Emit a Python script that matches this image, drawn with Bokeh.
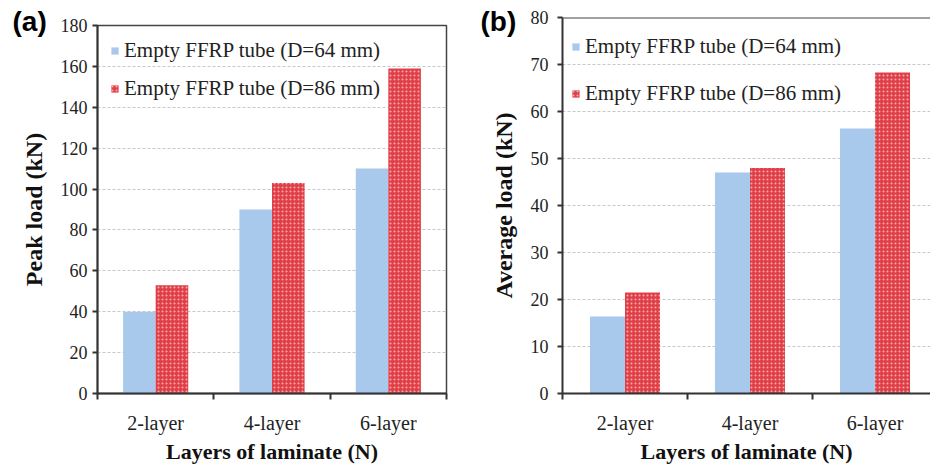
import numpy as np
from bokeh.plotting import figure
from bokeh.layouts import row
from bokeh.models import (ColumnDataSource, FixedTicker, Legend, LegendItem, Label,
                          Span, Range1d)
from bokeh.transform import dodge
from bokeh.embed import file_html
from bokeh.resources import INLINE

# ---------------- data ----------------
categories = ["2-layer", "4-layer", "6-layer"]
series_names = ["Empty FFRP tube (D=64 mm)", "Empty FFRP tube (D=86 mm)"]
peak_d64 = [40, 90, 110]
peak_d86 = [53, 103, 159]
avg_d64 = [16.4, 47, 56.4]
avg_d86 = [21.5, 48, 68.3]
peak_ticks = [0, 20, 40, 60, 80, 100, 120, 140, 160, 180]
avg_ticks = [0, 10, 20, 30, 40, 50, 60, 70, 80]

BLUE = "#a8c8ec"
RED = "#e03f48"
DOT = "#f8b8b8"
SERIF = "Liberation Serif"
AXC = "#333333"
TOP = 40  # fixed top border; the figure is shifted up with a negative margin


def make_panel(tag, vals64, vals86, ymax, yticks, ylabel, x_end,
               borders, legend_loc, legend_spacing, tag_xy, tick_standoff,
               outline=True):
    left, right, top, bottom = borders
    shift = TOP - top
    p = figure(width=465, height=473 + shift, output_backend="svg",
               toolbar_location=None,
               x_range=Range1d(0, x_end), y_range=Range1d(0, ymax),
               min_border_left=left, min_border_right=right,
               min_border_top=TOP, min_border_bottom=bottom,
               margin=(-shift, 0, 0, 0))
    p.background_fill_color = "white"
    p.border_fill_color = "white"
    if outline:
        p.outline_line_color = "#444444"
        p.outline_line_width = 1.5
    else:
        p.outline_line_color = None
        p.add_layout(Span(location=ymax, dimension="width", line_color="#444444",
                          line_width=2))

    centers = np.arange(len(categories)) + 0.5
    w = 0.28
    src = ColumnDataSource(dict(x=centers, cat=categories, a=vals64, b=vals86))
    r1 = p.vbar(x=dodge("x", -w / 2), top="a", width=w, source=src,
                fill_color=BLUE, line_color=None)
    r2 = p.vbar(x=dodge("x", w / 2), top="b", width=w, source=src, fill_color=RED,
                line_color=None, hatch_pattern="dot", hatch_color=DOT,
                hatch_scale=4, hatch_weight=1.6, hatch_alpha=0.9)

    # grid
    p.xgrid.visible = False
    p.ygrid.ticker = FixedTicker(ticks=yticks)
    p.ygrid.grid_line_color = "#c4c8cc"
    p.ygrid.grid_line_dash = "3 2"
    p.ygrid.grid_line_width = 1

    # y axis
    ya = p.yaxis[0]
    ya.ticker = FixedTicker(ticks=yticks)
    ya.axis_line_color = AXC
    ya.axis_line_width = 2
    ya.major_tick_line_color = AXC
    ya.major_tick_line_width = 2
    ya.major_tick_out = 5
    ya.major_tick_in = 0
    ya.minor_tick_line_color = None
    ya.major_label_standoff = tick_standoff
    ya.major_label_text_font = SERIF
    ya.major_label_text_font_size = "18px"
    ya.major_label_text_color = "#222222"
    ya.axis_label = ylabel
    ya.axis_label_text_font = SERIF
    ya.axis_label_text_font_style = "bold"
    ya.axis_label_text_font_size = "24px"
    ya.axis_label_text_color = "#111111"
    ya.axis_label_standoff = 11

    # x axis: labels at category centres, ticks at boundaries
    xa = p.xaxis[0]
    xa.ticker = FixedTicker(ticks=list(centers),
                            minor_ticks=list(range(len(categories) + 1)))
    xa.major_label_overrides = {float(c): n for c, n in zip(centers, categories)}
    xa.axis_line_color = AXC
    xa.axis_line_width = 2
    xa.major_tick_line_color = None
    xa.major_tick_out = 0
    xa.major_tick_in = 0
    xa.minor_tick_line_color = AXC
    xa.minor_tick_line_width = 2
    xa.minor_tick_out = 6
    xa.minor_tick_in = 0
    xa.major_label_standoff = 12
    xa.major_label_text_font = SERIF
    xa.major_label_text_font_size = "20px"
    xa.major_label_text_color = "#222222"
    xa.axis_label = "Layers of laminate (N)"
    xa.axis_label_text_font = SERIF
    xa.axis_label_text_font_style = "bold"
    xa.axis_label_text_font_size = "22px"
    xa.axis_label_text_color = "#111111"
    xa.axis_label_standoff = 2

    legend = Legend(items=[LegendItem(label=series_names[0], renderers=[r1]),
                           LegendItem(label=series_names[1], renderers=[r2])],
                    location=legend_loc, padding=0, margin=0,
                    spacing=legend_spacing, label_height=24,
                    glyph_height=9, glyph_width=9, label_standoff=5,
                    label_text_font=SERIF, label_text_font_size="21px",
                    label_text_color="#222222",
                    background_fill_alpha=0, border_line_color=None)
    p.add_layout(legend, "center")

    p.add_layout(Label(x=tag_xy[0], y=tag_xy[1], x_units="screen", y_units="screen",
                       text=tag, text_font="Liberation Sans", text_font_style="bold",
                       text_font_size="28px", text_baseline="top", text_color="black"),
                 "above")
    return p


pa = make_panel("(a)", peak_d64, peak_d86, 180, peak_ticks, "Peak load (kN)", 3.0,
                (97, 19, 25, 74), (13, 292), 13, (-85, 20), 5)
pb = make_panel("(b)", avg_d64, avg_d86, 80, avg_ticks, "Average load (kN)", 2.944,
                (97, 0, 17, 80), (9, 287), 22, (-82, 12), 9, outline=False)

layout = row(pa, pb)
open("out.html", "w").write(file_html(layout, INLINE))
